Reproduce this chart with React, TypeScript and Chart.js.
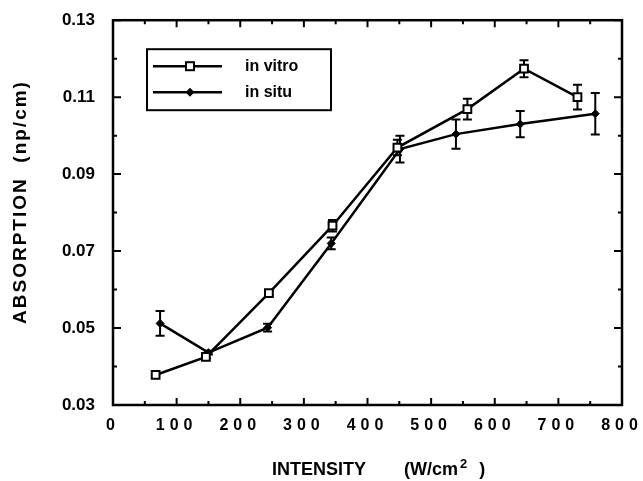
import React, { useEffect, useRef } from 'react';
import { Chart, registerables } from 'chart.js';

Chart.register(...registerables);

// ---- data ----
const seriesNames = ['in vitro', 'in situ'];
const vitroX = [67, 146, 245, 345, 447, 557, 646, 730];
const vitroY = [0.0378, 0.0425, 0.0591, 0.0766, 0.0969, 0.1069, 0.1174, 0.11];
const vitroErr = [0, 0.0005, 0.0006, 0.0015, 0.002, 0.0027, 0.0022, 0.0032];
const situX = [74, 150, 243, 343, 451, 539, 640, 758];
const situY = [0.0512, 0.0436, 0.0501, 0.072, 0.0965, 0.1004, 0.103, 0.1057];
const situErr = [0.0032, 0.0005, 0.001, 0.0015, 0.0035, 0.0038, 0.0034, 0.0054];

const xTickValues = [0, 100, 200, 300, 400, 500, 600, 700, 800];
const xMinorTicks = [50, 150, 250, 350, 450, 550, 650, 750];
const yTickValues = [0.03, 0.05, 0.07, 0.09, 0.11, 0.13];
const yMinorTicks = [0.04, 0.06, 0.08, 0.1, 0.12];

const xTitle = 'INTENSITY';
const xTitleUnit = '(W/cm';
const xTitleSup = '2';
const xTitleEnd = ')';
const yTitle = 'ABSORPTION  (np/cm)';

const FONT = "'Liberation Sans', Arial, Helvetica, sans-serif";

export default function App() {
  const ref = useRef<HTMLCanvasElement>(null);

  useEffect(() => {
    const canvas = ref.current!;
    const ctx = canvas.getContext('2d')!;

    const errs = [vitroErr, situErr];

    const plugin = {
      id: 'paperDecor',
      beforeDatasetsDraw(chart: any) {
        const c = chart.ctx;
        const xs = chart.scales.x;
        const ys = chart.scales.y;
        c.save();
        c.strokeStyle = '#000';
        c.lineWidth = 2;
        chart.data.datasets.forEach((ds: any, di: number) => {
          ds.data.forEach((p: any, i: number) => {
            const e = errs[di][i];
            if (!e) return;
            const px = xs.getPixelForValue(p.x);
            const pt = ys.getPixelForValue(p.y + e);
            const pb = ys.getPixelForValue(p.y - e);
            c.beginPath();
            c.moveTo(px, pt);
            c.lineTo(px, pb);
            c.moveTo(px - 4.5, pt);
            c.lineTo(px + 4.5, pt);
            c.moveTo(px - 4.5, pb);
            c.lineTo(px + 4.5, pb);
            c.stroke();
          });
        });
        c.restore();
      },
      afterDatasetsDraw(chart: any) {
        // x tick labels (layer z=1) are drawn after this with wide letter spacing
        (chart.ctx as any).letterSpacing = '5px';
      },
      afterDraw(chart: any) {
        const c = chart.ctx;
        (c as any).letterSpacing = '0px';
        const a = chart.chartArea;
        const xs = chart.scales.x;
        const ys = chart.scales.y;
        c.save();
        c.strokeStyle = '#000';
        c.lineWidth = 2.5;
        c.strokeRect(a.left, a.top, a.right - a.left, a.bottom - a.top);
        // inward tick marks on all four sides
        c.lineWidth = 2;
        c.beginPath();
        const xt = (v: number, len: number) => {
          const px = xs.getPixelForValue(v);
          c.moveTo(px, a.bottom);
          c.lineTo(px, a.bottom - len);
          c.moveTo(px, a.top);
          c.lineTo(px, a.top + len);
        };
        const yt = (v: number, len: number) => {
          const py = ys.getPixelForValue(v);
          c.moveTo(a.left, py);
          c.lineTo(a.left + len, py);
          c.moveTo(a.right, py);
          c.lineTo(a.right - len, py);
        };
        xTickValues.forEach((v) => xt(v, 7));
        xMinorTicks.forEach((v) => xt(v, 4));
        yTickValues.forEach((v) => yt(v, 8));
        yMinorTicks.forEach((v) => yt(v, 4));
        c.stroke();

        // legend box
        const lx = a.left + 34;
        const ly = a.top + 29;
        const lw = 184;
        const lh = 61;
        c.fillStyle = '#fff';
        c.fillRect(lx, ly, lw, lh);
        c.lineWidth = 2;
        c.strokeRect(lx, ly, lw, lh);
        const rows = [ly + 17, ly + 43];
        rows.forEach((ry, ri) => {
          c.beginPath();
          c.moveTo(lx + 6, ry);
          c.lineTo(lx + 75, ry);
          c.lineWidth = 2.5;
          c.stroke();
          const mx = lx + 43;
          c.lineWidth = 2;
          if (ri === 0) {
            c.fillStyle = '#fff';
            c.fillRect(mx - 4, ry - 4, 8, 8);
            c.strokeRect(mx - 4, ry - 4, 8, 8);
          } else {
            c.fillStyle = '#000';
            c.beginPath();
            c.moveTo(mx, ry - 4.5);
            c.lineTo(mx + 4.5, ry);
            c.lineTo(mx, ry + 4.5);
            c.lineTo(mx - 4.5, ry);
            c.closePath();
            c.fill();
          }
          c.fillStyle = '#000';
          c.font = `bold 16px ${FONT}`;
          c.textAlign = 'left';
          c.textBaseline = 'middle';
          c.fillText(seriesNames[ri], lx + 98, ry);
        });

        // x axis title
        c.fillStyle = '#000';
        c.textBaseline = 'alphabetic';
        c.textAlign = 'left';
        c.font = `bold 18px ${FONT}`;
        let tx = 272;
        const base = 475;
        c.fillText(xTitle, tx, base);
        tx += c.measureText(xTitle).width + 38;
        c.fillText(xTitleUnit, tx, base);
        tx += c.measureText(xTitleUnit).width + 2;
        c.font = `bold 13px ${FONT}`;
        c.fillText(xTitleSup, tx, base - 7);
        tx += c.measureText(xTitleSup).width + 12;
        c.font = `bold 18px ${FONT}`;
        c.fillText(xTitleEnd, tx, base);

        // y axis title
        c.save();
        c.translate(21, 202);
        c.rotate(-Math.PI / 2);
        (c as any).letterSpacing = '2px';
        c.font = `bold 19px ${FONT}`;
        c.textAlign = 'center';
        c.textBaseline = 'middle';
        c.fillText(yTitle, 0, 0);
        c.restore();
        c.restore();
      },
    };

    const chart = new Chart(ctx, {
      type: 'line',
      data: {
        datasets: [
          {
            label: seriesNames[0],
            data: vitroX.map((x, i) => ({ x, y: vitroY[i] })),
            borderColor: '#000',
            borderWidth: 2.5,
            pointStyle: 'rect',
            pointRadius: 5.5,
            pointBorderWidth: 2,
            pointBackgroundColor: '#fff',
            pointBorderColor: '#000',
            tension: 0,
            fill: false,
          },
          {
            label: seriesNames[1],
            data: situX.map((x, i) => ({ x, y: situY[i] })),
            borderColor: '#000',
            borderWidth: 2.5,
            pointStyle: 'rectRot',
            pointRadius: 4,
            pointBorderWidth: 1,
            pointBackgroundColor: '#000',
            pointBorderColor: '#000',
            tension: 0,
            fill: false,
          },
        ],
      },
      options: {
        responsive: false,
        animation: false,
        layout: { padding: { left: 0, top: 19, right: 21, bottom: 0 } },
        plugins: { legend: { display: false }, tooltip: { enabled: false } },
        scales: {
          x: {
            type: 'linear',
            min: 0,
            max: 800,
            afterBuildTicks: (s: any) => {
              s.ticks = xTickValues.map((v) => ({ value: v }));
            },
            afterFit: (s: any) => {
              s.height = 76;
            },
            grid: { display: false },
            border: { display: false },
            ticks: {
              z: 1,
              autoSkip: false,
              maxRotation: 0,
              padding: 3,
              color: '#000',
              font: { family: FONT, size: 16, weight: 'bold' },
              callback: (v: any) => String(v),
            },
          },
          y: {
            type: 'linear',
            min: 0.03,
            max: 0.13,
            afterBuildTicks: (s: any) => {
              s.ticks = yTickValues.map((v) => ({ value: v }));
            },
            afterFit: (s: any) => {
              s.width = 113;
            },
            grid: { display: false },
            border: { display: false },
            ticks: {
              padding: 10,
              color: '#000',
              font: { family: FONT, size: 17, weight: 'bold' },
              callback: (v: any) => Number(v).toFixed(2),
            },
          },
        },
      },
      plugins: [plugin],
    } as any);

    return () => chart.destroy();
  }, []);

  return (
    <canvas
      ref={ref}
      width={643}
      height={481}
      style={{ position: 'fixed', left: 0, top: 0, display: 'block', background: '#fff' }}
    />
  );
}
